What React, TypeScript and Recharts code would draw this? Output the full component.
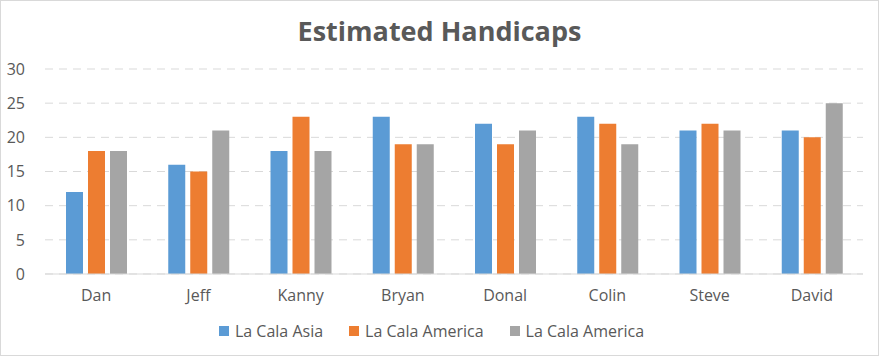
import React from "react";
import { BarChart, Bar, XAxis, YAxis, CartesianGrid, Legend } from "recharts";

const players = ["Dan", "Jeff", "Kanny", "Bryan", "Donal", "Colin", "Steve", "David"];
const asia = [12, 16, 18, 23, 22, 23, 21, 21];
const america = [18, 15, 23, 19, 19, 22, 22, 20];
const america2 = [18, 21, 18, 19, 21, 19, 21, 25];
const yTicks = [0, 5, 10, 15, 20, 25, 30];

const series = [
  { key: "asia", name: "La Cala Asia", color: "#5B9BD5" },
  { key: "america", name: "La Cala America", color: "#ED7D31" },
  { key: "america2", name: "La Cala America", color: "#A5A5A5" },
];

const data = players.map((name, i) => ({
  name,
  asia: asia[i],
  america: america[i],
  america2: america2[i],
}));

const font = "'Open Sans', 'Liberation Sans', sans-serif";
const textColor = "#595959";

function LegendBox() {
  return (
    <div style={{ display: "flex", justifyContent: "center", gap: 26, fontSize: 16, color: textColor }}>
      {series.map((s) => (
        <div key={s.key} style={{ display: "flex", alignItems: "center" }}>
          <span style={{ width: 10, height: 10, background: s.color, marginRight: 6, display: "inline-block" }} />
          {s.name}
        </div>
      ))}
    </div>
  );
}

export default function App() {
  return (
    <div style={{ position: "relative", width: 879, height: 356, background: "#fff", fontFamily: font }}>
      <style>{"body{margin:0}"}</style>
      <div
        style={{
          position: "absolute",
          top: 12,
          left: 0,
          width: 879,
          textAlign: "center",
          fontSize: 27,
          fontWeight: 700,
          color: textColor,
        }}
      >
        Estimated Handicaps
      </div>
      <BarChart
        width={879}
        height={356}
        data={data}
        margin={{ top: 69, right: 16, bottom: 20, left: 0 }}
        barGap={5}
        barSize={17}
      >
        <CartesianGrid vertical={false} stroke="#d9d9d9" strokeDasharray="8 6" />
        <XAxis
          dataKey="name"
          axisLine={{ stroke: "#d9d9d9" }}
          tickLine={false}
          tick={{ fill: textColor, fontSize: 16, fontFamily: font }}
          tickMargin={10}
          height={40}
        />
        <YAxis
          ticks={yTicks}
          domain={[0, 30]}
          axisLine={false}
          tickLine={false}
          tick={{ fill: textColor, fontSize: 16, fontFamily: font }}
          width={45}
          tickMargin={14}
        />
        <Legend content={<LegendBox />} wrapperStyle={{ top: 320 }} />
        {series.map((s) => (
          <Bar key={s.key} dataKey={s.key} name={s.name} fill={s.color} isAnimationActive={false} />
        ))}
      </BarChart>
      <div
        style={{
          position: "absolute",
          inset: 0,
          border: "1px solid #d9d9d9",
          pointerEvents: "none",
        }}
      />
    </div>
  );
}
